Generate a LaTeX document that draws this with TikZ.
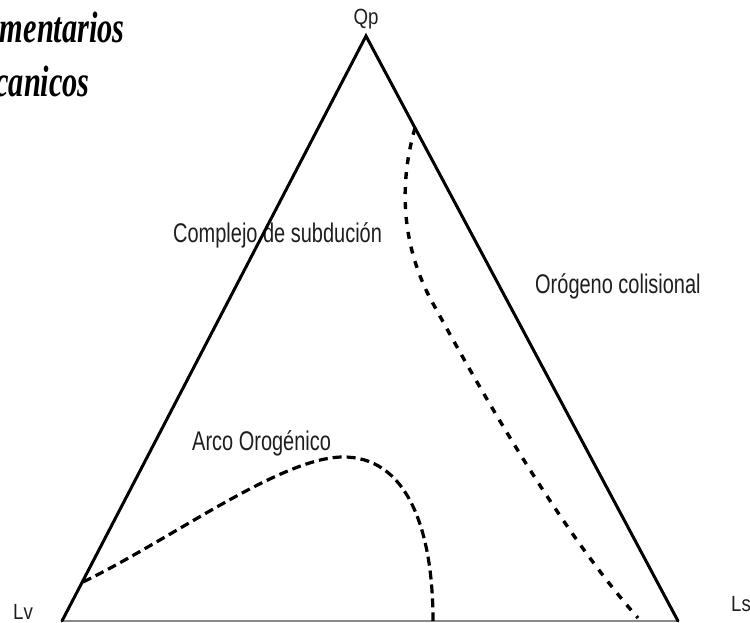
\documentclass[tikz,border=0pt]{standalone}
\usepackage{fontspec}
\newfontfamily\labfont[FakeStretch=0.74]{Liberation Sans}
\newfontfamily\cornfont[FakeStretch=0.85]{Liberation Sans}
\newfontfamily\titfont[FakeStretch=0.69]{Liberation Serif}
\definecolor{txt}{HTML}{1E1E1E}
\definecolor{basegray}{HTML}{8A8A8A}
\begin{document}
\begin{tikzpicture}[x=1pt,y=-1pt,
  side/.style={line width=3pt,black,line cap=round,line join=miter},
  baseline/.style={line width=1.8pt,basegray},
  arcline/.style={line width=3.2pt,black,dash pattern=on 9pt off 5pt},
  colline/.style={line width=3.4pt,black,dash pattern=on 7pt off 8pt},
  lab/.style={inner sep=0pt,anchor=base west,text=txt,font=\labfont\fontsize{27}{27}\selectfont},
  corner/.style={inner sep=0pt,text=txt,font=\cornfont\fontsize{22}{22}\selectfont},
  tit/.style={inner sep=0pt,anchor=base east,text=black,font=\titfont\bfseries\itshape\fontsize{44}{44}\selectfont}]
\useasboundingbox (0,0) rectangle (750,623);
\clip (0,0) rectangle (750,623);
% corners
\coordinate (top) at (366,36);
\coordinate (left) at (62,621);
\coordinate (right) at (678,621);
\coordinate (arcS) at (83,582);
\coordinate (arcP) at (342,457);
\coordinate (arcE) at (433,621);
\coordinate (colS) at (415,128);
\coordinate (colM) at (430,298);
\coordinate (colE) at (638,618);
% title fragments
\node[tit] (t1) at (125,43) {mentarios};
\node[tit] (t2) at (90,97) {canicos};
% labels
\node[lab] (sub) at (173,242) {Complejo de subdución};
\node[lab] (col) at (535,293) {Orógeno colisional};
\node[lab] (arc) at (192,450) {Arco Orogénico};
\node[corner] (qp) at (366,19) {Qp};
\node[corner] (lv) at (23,612) {Lv};
\node[corner] (ls) at (741,604) {Ls};
% triangle
\draw[baseline] (left) -- (right);
\draw[side] (left) -- (top) -- (right);
% dashed boundaries
\draw[arcline] (arcS) .. controls (170,540) and (280,458) .. (arcP)
  .. controls (405,456) and (433,525) .. (arcE);
\draw[colline] (colS) .. controls (400,180) and (400,240) .. (colM)
  .. controls (480,390) and (560,530) .. (colE);
\end{tikzpicture}
\end{document}
